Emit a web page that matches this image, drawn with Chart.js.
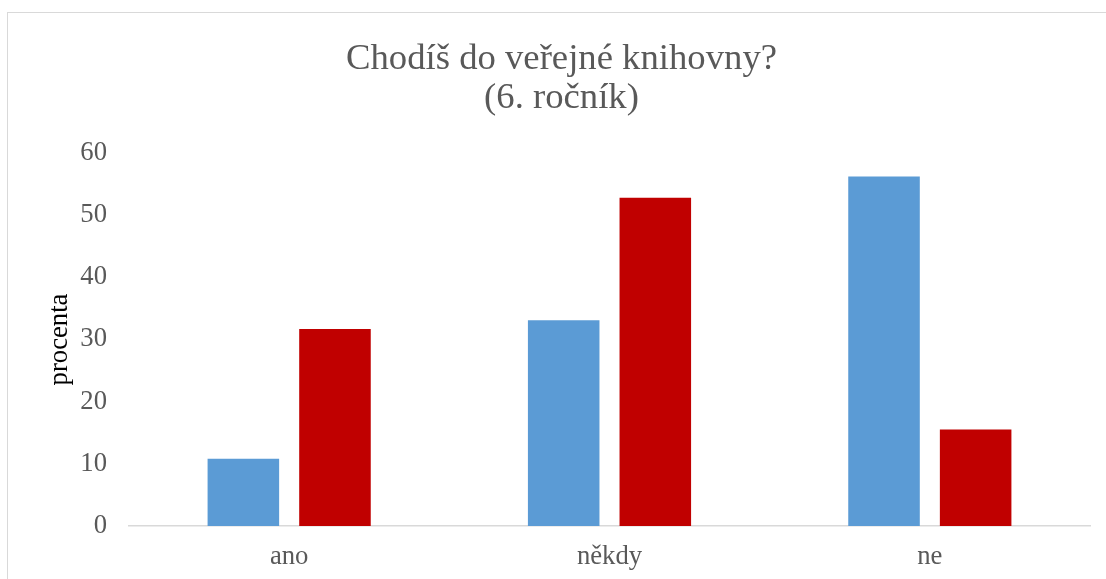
<!DOCTYPE html>
<html lang="cs">
<head>
<meta charset="utf-8">
<title>Chodíš do veřejné knihovny?</title>
<script src="https://cdn.jsdelivr.net/npm/chart.js@4/dist/chart.umd.min.js"></script>
<style>
    html, body { margin: 0; padding: 0; overflow: hidden; background: #fff; }
    #ramecek {
        position: absolute; left: 7px; top: 12px;
        width: 1120px; height: 600px;
        border: 1px solid #d9d9d9;
    }
    #grafKnihovna { display: block; }
</style>
</head>
<body>
<div id="ramecek"><canvas id="grafKnihovna" width="1120" height="600"></canvas></div>
<script>
// odpovědi žáků v procentech
var kategorie = ["ano", "někdy", "ne"];
var hodnotyModre = [10.8, 33.1, 56.2];
var hodnotyCervene = [31.7, 52.8, 15.5];
var osaY = { min: 0, max: 60, krok: 10 };

var pismo = "'Liberation Serif', 'Times New Roman', serif";
var seda = "#595959";

new Chart("grafKnihovna", {
    type: "bar",
    data: {
        labels: kategorie,
        datasets: [{
            label: "skupina 1",
            backgroundColor: "#5b9bd5",
            data: hodnotyModre
        }, {
            label: "skupina 2",
            backgroundColor: "#c00000",
            data: hodnotyCervene
        }]
    },
    options: {
        responsive: false,
        animation: false,
        categoryPercentage: 0.572,
        barPercentage: 0.781,
        layout: { padding: { left: 25, right: 38, top: 0, bottom: 25 } },
        plugins: {
            legend: { display: false },
            tooltip: { enabled: false },
            title: {
                display: true,
                text: ["Chodíš do veřejné knihovny?", "(6. ročník)"],
                color: seda,
                font: { family: pismo, size: 36.7, weight: "normal", lineHeight: "39px" },
                padding: { top: 27, bottom: 35 }
            }
        },
        scales: {
            x: {
                grid: { display: false, drawTicks: false },
                border: { display: true, color: "#d9d9d9", width: 1.5 },
                ticks: {
                    color: seda,
                    padding: 15,
                    font: { family: pismo, size: 26.7 }
                }
            },
            y: {
                min: osaY.min,
                max: osaY.max,
                grid: { display: false, drawTicks: false },
                border: { display: false },
                ticks: {
                    stepSize: osaY.krok,
                    color: seda,
                    padding: 22,
                    font: { family: pismo, size: 26.7 }
                },
                title: {
                    display: true,
                    text: "procenta",
                    color: "#000",
                    padding: { top: 11, bottom: 0 },
                    font: { family: pismo, size: 26.7 }
                },
                afterFit: function (scale) {
                    scale.width = 96;
                }
            }
        }
    }
});
</script>
</body>
</html>
